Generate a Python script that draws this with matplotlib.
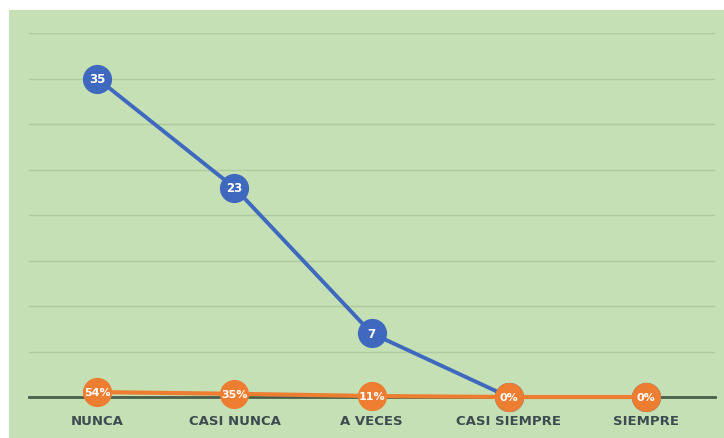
import matplotlib.pyplot as plt
from matplotlib.patches import Rectangle

categorias = ['NUNCA', 'CASI NUNCA', 'A VECES', 'CASI SIEMPRE', 'SIEMPRE']
frecuencia = [35, 23, 7, 0, 0]
porcentaje = [0.54, 0.35, 0.11, 0.0, 0.0]
etiquetas_pct = ['54%', '35%', '11%', '0%', '0%']

verde = '#C5E0B4'
azul = '#3F69BF'
naranja = '#ED7D31'

fig = plt.figure(figsize=(7.24, 4.39), dpi=100)
fig.patch.set_facecolor('white')
# fondo verde del grafico
fig.patches.append(Rectangle((9 / 724, 0), 1, (439 - 11) / 439, transform=fig.transFigure,
                             facecolor=verde, edgecolor='none', zorder=-10))

ax = fig.add_axes([28.7 / 724, 41 / 439, (714.6 - 28.7) / 724, 364 / 439])
ax.set_facecolor('none')
ax.set_zorder(1)

x = list(range(len(categorias)))

ax.plot(x, frecuencia, color=azul, lw=2.8, marker='o', ms=20,
        markerfacecolor=azul, markeredgecolor=azul, zorder=3, clip_on=False)
for xi, v in zip(x[:3], frecuencia[:3]):
    ax.text(xi, v, str(v), color='white', ha='center', va='center',
            fontsize=8.5, fontweight='bold', zorder=5)

ax.plot(x, porcentaje, color=naranja, lw=3, marker='o', ms=20,
        markerfacecolor=naranja, markeredgecolor=naranja, zorder=4, clip_on=False)
for xi, v, t in zip(x, porcentaje, etiquetas_pct):
    ax.text(xi, v, t, color='white', ha='center', va='center',
            fontsize=8, fontweight='bold', zorder=6)

ax.set_xlim(-0.5, 4.5)
ax.set_ylim(0, 40)
ax.set_yticks(range(0, 41, 5))
ax.yaxis.grid(True, color='#AFCB9E', lw=1)
ax.set_axisbelow(True)
ax.tick_params(axis='y', left=False, labelleft=False)
ax.set_xticks(x)
ax.set_xticklabels(categorias, fontsize=9.5, fontweight='bold', color='#3E4B50')
ax.tick_params(axis='x', length=0, pad=12)
for s in ['top', 'right', 'left']:
    ax.spines[s].set_visible(False)
ax.spines['bottom'].set_color('#4A5E4A')
ax.spines['bottom'].set_linewidth(2)
ax.spines['bottom'].set_zorder(2)

plt.savefig('out.png', dpi=100)
